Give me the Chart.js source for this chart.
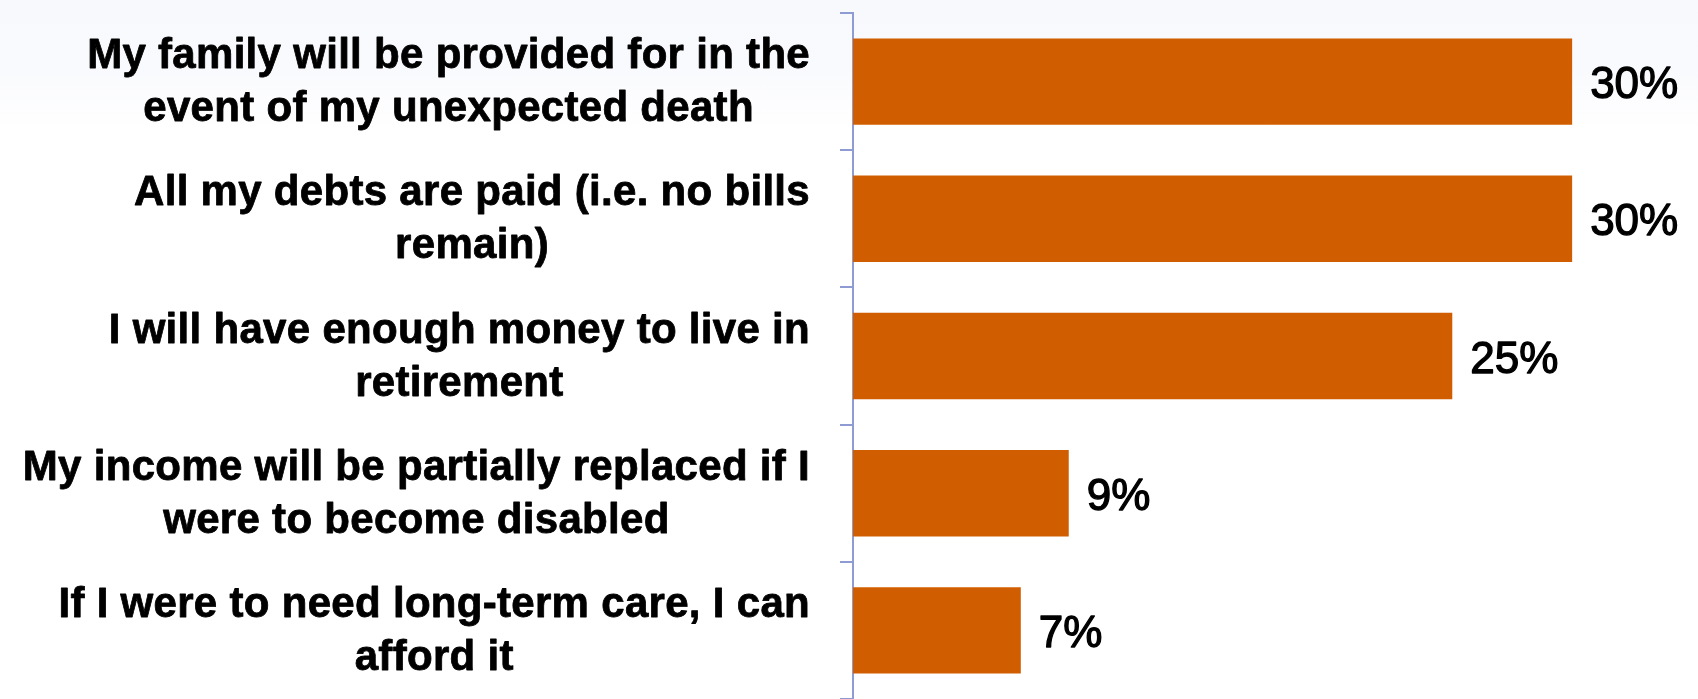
<!DOCTYPE html>
<html>
<head>
<meta charset="utf-8">
<title>Financial security outcomes</title>
<script src="https://cdn.jsdelivr.net/npm/chart.js@4.4.1/dist/chart.umd.min.js"></script>
<style>
  html, body { margin: 0; padding: 0; }
  body {
    width: 1698px; height: 699px; overflow: hidden;
    background: linear-gradient(to bottom, #f8f9fc 0px, #f9fafd 70px, #ffffff 130px, #ffffff 699px);
  }
  #wrap { position: relative; width: 1698px; height: 699px; }
  canvas { display: block; }
</style>
</head>
<body>
<div id="wrap"><canvas id="chart" width="1698" height="699"></canvas></div>
<script>
// Survey statements (each entry is split into its display lines)
const categories = [
  ["My family will be provided for in the", "event of my unexpected death"],
  ["All my debts are paid (i.e. no bills", "remain)"],
  ["I will have enough money to live in", "retirement"],
  ["My income will be partially replaced if I", "were to become disabled"],
  ["If I were to need long-term care, I can", "afford it"]
];

// Share of respondents, in percent
const values = [30, 30, 25, 9, 7];

const barColor = '#d05e00';
const axisColor = '#8f9bd3';

// Category labels: block right-aligned next to the axis, lines centred in the block
const categoryLabels = {
  id: 'categoryLabels',
  afterDraw(chart) {
    const { ctx } = chart;
    const y = chart.scales.y;
    const rightEdge = y.right - 43;
    const lineGap = 53;
    ctx.save();
    ctx.font = 'bold 42px "Liberation Sans", Arial, sans-serif';
    if ('letterSpacing' in ctx) ctx.letterSpacing = '0.3px';
    ctx.fillStyle = '#000000';
    ctx.strokeStyle = '#000000';
    ctx.lineWidth = 0.8;
    ctx.lineJoin = 'round';
    ctx.textAlign = 'center';
    ctx.textBaseline = 'alphabetic';
    categories.forEach((lines, i) => {
      const cy = y.getPixelForValue(i);
      const widths = lines.map(t => ctx.measureText(t).width);
      const blockW = Math.max(...widths);
      const cx = rightEdge - blockW / 2;
      const first = cy - (lines.length - 1) * lineGap / 2 + 13;
      lines.forEach((t, k) => {
        ctx.fillText(t, cx, first + k * lineGap);
        ctx.strokeText(t, cx, first + k * lineGap);
      });
    });
    ctx.restore();
  }
};

// Percentage labels just past the end of each bar
const valueLabels = {
  id: 'valueLabels',
  afterDatasetsDraw(chart) {
    const { ctx } = chart;
    const meta = chart.getDatasetMeta(0);
    ctx.save();
    ctx.font = '44px "Liberation Sans", Arial, sans-serif';
    ctx.fillStyle = '#000000';
    ctx.strokeStyle = '#000000';
    ctx.lineWidth = 1.3;
    ctx.lineJoin = 'round';
    ctx.textAlign = 'left';
    ctx.textBaseline = 'alphabetic';
    meta.data.forEach((bar, i) => {
      const txt = values[i] + '%';
      const x = bar.x + 18;
      const yy = bar.y + 16.5;
      ctx.fillText(txt, x, yy);
      ctx.strokeText(txt, x, yy);
    });
    ctx.restore();
  }
};

new Chart(document.getElementById('chart'), {
  type: 'bar',
  data: {
    labels: categories,
    datasets: [{
      data: values,
      backgroundColor: barColor,
      borderWidth: 0,
      categoryPercentage: 1.0,
      barPercentage: 0.63
    }]
  },
  options: {
    indexAxis: 'y',
    responsive: false,
    animation: false,
    events: [],
    layout: { padding: { top: 13, right: 6, bottom: 0, left: 0 } },
    plugins: {
      legend: { display: false },
      tooltip: { enabled: false },
      title: { display: false }
    },
    scales: {
      x: {
        display: false,
        min: 0,
        max: 35
      },
      y: {
        grid: {
          display: true,
          offset: true,
          drawOnChartArea: false,
          drawTicks: true,
          tickLength: 13,
          color: axisColor,
          lineWidth: 2
        },
        border: { display: true, color: axisColor, width: 2 },
        ticks: { display: false },
        afterFit(scale) { scale.width = 853; }
      }
    }
  },
  plugins: [categoryLabels, valueLabels]
});
</script>
</body>
</html>
